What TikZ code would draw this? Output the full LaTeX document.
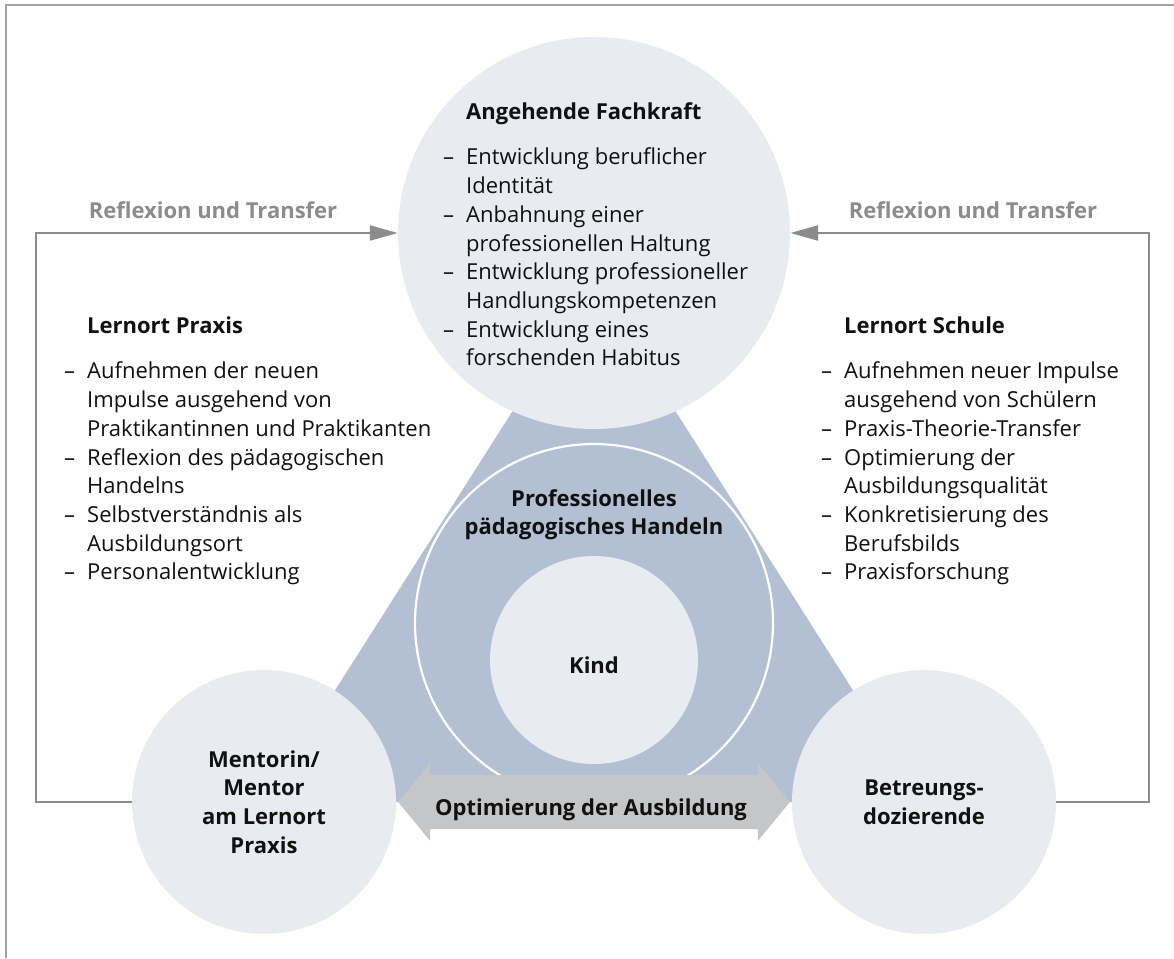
\documentclass[tikz,border=0pt]{standalone}
\usepackage{fontspec}
\setmainfont{Open Sans}
\usetikzlibrary{arrows.meta,calc}
\definecolor{disc}{HTML}{E8EBF0}
\definecolor{wedge}{HTML}{B3C0D3}
\definecolor{bar}{HTML}{C5C6C8}
\definecolor{flowgray}{HTML}{8B8C8E}
\definecolor{framegray}{HTML}{A3A3A3}
\definecolor{ink}{HTML}{111111}
% list helpers: dash item and continuation line with hanging indent
\newcommand{\litem}[1]{\makebox[23pt][l]{–}#1}
\newcommand{\lcont}[1]{\hspace*{23pt}#1}
\begin{document}
\begin{tikzpicture}[x=1pt,y=-1pt,
  disc/.style={circle, fill=disc, inner sep=0pt, align=center, text=ink},
  body/.style={font=\fontsize{22}{28.7}\selectfont},
  bodybold/.style={font=\fontsize{22}{28.7}\selectfont\bfseries},
  listtext/.style={anchor=north west, inner sep=0pt, align=left, text=ink, body},
  flow/.style={draw=flowgray, line width=2.3pt, -{Triangle[length=28pt,width=15pt]}},
  flowlabel/.style={anchor=base, inner sep=0pt, text=flowgray, bodybold}]
\useasboundingbox (0,0) rectangle (1174,958);

% frame (top and left edges)
\draw[framegray, line width=1.5pt] (6,958) -- (6,5) -- (1174,5);

% centres of the three actors
\coordinate (cF) at (594,233);
\coordinate (cM) at (264,802);
\coordinate (cB) at (924,802);
\coordinate (apex) at (594,283);

% connecting triangle
\fill[wedge] (apex) -- (cM) -- (cB) -- cycle;

% actor discs
\node[disc, minimum size=392pt] (fach) at (cF) {};
\node[disc, minimum size=264pt, bodybold] (ment) at (cM) {Mentorin/\\Mentor\\am Lernort\\Praxis};
\node[disc, minimum size=264pt, bodybold] (betr) at (cB) {Betreungs-\\dozierende};

% centre: professional action around the child
\node[circle, draw=white, line width=2.2pt, minimum size=358pt, inner sep=0pt] (ring) at (594,623) {};
\node[anchor=north, inner sep=0pt, align=center, text=ink, bodybold] (prof) at (594,486)
  {\rule{0pt}{20pt}Professionelles\\pädagogisches Handeln};
\node[disc, minimum size=208pt] (kind) at (594,660) {};
\node[anchor=base, inner sep=0pt, text=ink, bodybold] (kindlabel) at (594,673) {Kind};

% double block arrow between mentor and lecturers
\path (ment.east) ++(2,0) coordinate (aL);
\path (betr.west) ++(-2,0) coordinate (aR);
\fill[bar] (aL) -- ++(32,-39) -- ++(0,12) -- ($(aR)+(-32,-27)$) -- ++(0,-12) -- (aR)
  -- ++(-32,39) -- ++(0,-12) -- ($(aL)+(32,27)$) -- ++(0,12) -- cycle;
\node[anchor=base, inner sep=0pt, text=ink, bodybold] (opt) at (591,815) {Optimierung der Ausbildung};

% reflection and transfer loops
\coordinate (lc) at (36,233);
\coordinate (rc) at (1149,233);
\draw[flow] (ment.west) -| (lc) -- (fach.west);
\draw[flow] (betr.east) -| (rc) -- (fach.east);
\node[flowlabel] (refl) at (213,218) {Reflexion und Transfer};
\node[flowlabel] (refr) at (973,218) {Reflexion und Transfer};

% lists
\node[listtext] (fachlist) at (443,99) {\rule{0pt}{20pt}\lcont{\textbf{Angehende Fachkraft}}\\[17pt]
  \litem{Entwicklung beruflicher}\\
  \lcont{Identität}\\
  \litem{Anbahnung einer}\\
  \lcont{professionellen Haltung}\\
  \litem{Entwicklung professioneller}\\
  \lcont{Handlungskompetenzen}\\
  \litem{Entwicklung eines}\\
  \lcont{forschenden Habitus}};

\node[listtext] (praxislist) at (64,313) {\rule{0pt}{20pt}\lcont{\textbf{Lernort Praxis}}\\[17pt]
  \litem{Aufnehmen der neuen}\\
  \lcont{Impulse ausgehend von}\\
  \lcont{Praktikantinnen und Praktikanten}\\
  \litem{Reflexion des pädagogischen}\\
  \lcont{Handelns}\\
  \litem{Selbstverständnis als}\\
  \lcont{Ausbildungsort}\\
  \litem{Personalentwicklung}};

\node[listtext] (schullist) at (821,313) {\rule{0pt}{20pt}\lcont{\textbf{Lernort Schule}}\\[17pt]
  \litem{Aufnehmen neuer Impulse}\\
  \lcont{ausgehend von Schülern}\\
  \litem{Praxis-Theorie-Transfer}\\
  \litem{Optimierung der}\\
  \lcont{Ausbildungsqualität}\\
  \litem{Konkretisierung des}\\
  \lcont{Berufsbilds}\\
  \litem{Praxisforschung}};
\end{tikzpicture}
\end{document}
